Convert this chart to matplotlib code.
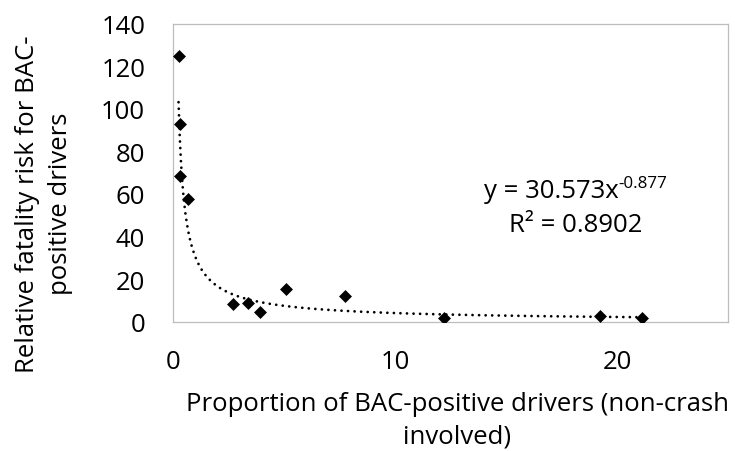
import numpy as np
import matplotlib
matplotlib.use("Agg")
import matplotlib.pyplot as plt

# Data
prop_bac = [0.27, 0.33, 0.30, 0.66, 2.72, 3.40, 3.92, 5.1, 7.77, 12.2, 19.23, 21.13]
risk = [124.7, 92.7, 68.6, 57.6, 8.5, 8.8, 4.4, 15.4, 12.2, 1.7, 2.8, 1.7]
coef_a = 30.573
coef_b = -0.877
r2 = 0.8902
trend_start = 0.25
x_ticks = [0, 10, 20]
y_ticks = [0, 20, 40, 60, 80, 100, 120, 140]

FONT = "Open Sans"
FS = 18.5
plt.rcParams["font.family"] = [FONT, "DejaVu Sans"]

W, H = 735, 452
fig = plt.figure(figsize=(W / 100, H / 100), dpi=100)
L, R, T, B = 173, 728, 24.7, 322.7
ax = fig.add_axes([L / W, 1 - B / H, (R - L) / W, (B - T) / H])

ax.scatter(prop_bac, risk, marker="D", s=6.6 ** 2, color="black", zorder=3, linewidths=0)

xt = np.linspace(trend_start, max(prop_bac), 400)
ax.plot(xt, coef_a * xt ** coef_b, color="black", lw=2.0,
        linestyle=(0, (0.01, 2.35)), dash_capstyle="round", zorder=2)

ax.set_xlim(0, 25)
ax.set_ylim(0, 140)
ax.set_xticks(x_ticks)
ax.set_yticks(y_ticks)
ax.tick_params(length=0, labelsize=FS)
ax.tick_params(axis="y", pad=20)
ax.tick_params(axis="x", pad=19.5)
for s in ax.spines.values():
    s.set_color("#bdbdbd")
    s.set_linewidth(0.9)

def px(x, y):
    return x / W, 1 - y / H

fig.text(*px(457, 420.5), "Proportion of BAC-positive drivers (non-crash\ninvolved)",
         ha="center", va="center", fontsize=FS, multialignment="center", linespacing=1.38)
fig.text(*px(44, 204), "Relative fatality risk for BAC-\npositive drivers",
         ha="center", va="center", rotation=90, fontsize=FS, multialignment="center", linespacing=1.38)

# Trendline equation (main text + real superscript)
renderer = fig.canvas.get_renderer()
t2 = fig.text(*px(642, 232), "R² = %.4f" % r2, ha="right", va="baseline", fontsize=FS)
bb2 = t2.get_window_extent(renderer)
center_x = (bb2.x0 + bb2.x1) / 2
t1 = fig.text(0, 1 - 198 / H, "y = %.3fx" % coef_a, ha="left", va="baseline", fontsize=FS)
sup = fig.text(0, 1 - 192 / H, "%.3f" % coef_b, ha="left", va="bottom", fontsize=FS * 0.66)
w1 = t1.get_window_extent(renderer).width
ws = sup.get_window_extent(renderer).width
x_start = center_x - (w1 + ws) / 2
t1.set_x(x_start / fig.bbox.width)
sup.set_x((x_start + w1) / fig.bbox.width)

fig.savefig("out.png", dpi=100)
